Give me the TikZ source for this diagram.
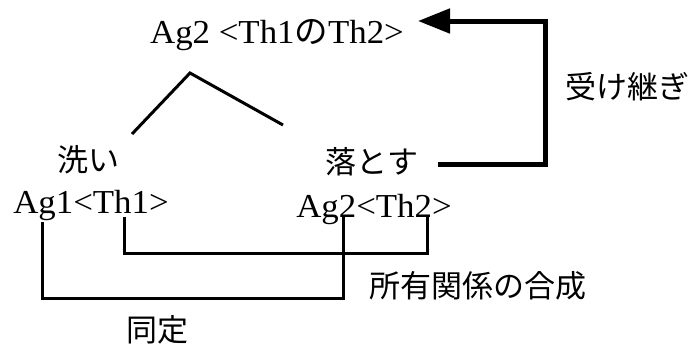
\documentclass[tikz,border=0pt]{standalone}
\usepackage{fontspec}
\setmainfont{Liberation Serif}[FakeStretch=1.04]
\newfontfamily\jp{Noto Sans CJK JP}
\usetikzlibrary{arrows.meta}
\begin{document}
\begin{tikzpicture}[x=1pt,y=-1pt,
  lat/.style={font=\fontsize{33.5}{38}\selectfont, inner sep=0pt},
  jap/.style={font=\fontsize{31}{35}\jp, inner sep=0pt},
  treeline/.style={line width=3pt, line join=miter},
  bracket/.style={line width=3pt, line join=miter, line cap=rect},
  inherit/.style={line width=5pt, line join=miter, -{Triangle[length=32pt,width=24pt]}}]
\useasboundingbox (0,0) rectangle (691,349);
% texts
\node[lat, anchor=base] (top) at (277,43) {Ag2 <Th1{\jp の}Th2>};
\node[jap] (uketsugi) at (627,87) {受け継ぎ};
\node[jap] (arai) at (88,160) {洗い};
\node[jap] (otosu) at (372,162) {落とす};
\node[lat, anchor=base] (left) at (91,213) {Ag1<Th1>};
\node[lat, anchor=base] (right) at (374,217) {Ag2<Th2>};
\node[jap] (shoyu) at (478,286) {所有関係の合成};
\node[jap] (dotei) at (157,330) {同定};
% tree
\coordinate (tl) at (132,134);
\coordinate (tp) at (190,73);
\coordinate (tr) at (283,125);
\draw[treeline] (tl) -- (tp) -- (tr);
% inheritance arrow
\coordinate (astart) at (438,164);
\coordinate (atip) at (418,21);
\draw[inherit] (astart) -- (545,164) |- (atip);
% brackets
\coordinate (th1) at (124,218);
\coordinate (th2) at (427,216);
\draw[bracket] (th1) -- (124,253) -| (th2);
\coordinate (ag1) at (42,223);
\coordinate (ag2) at (343,218);
\draw[bracket] (ag1) -- (42,298) -| (ag2);
\end{tikzpicture}
\end{document}
